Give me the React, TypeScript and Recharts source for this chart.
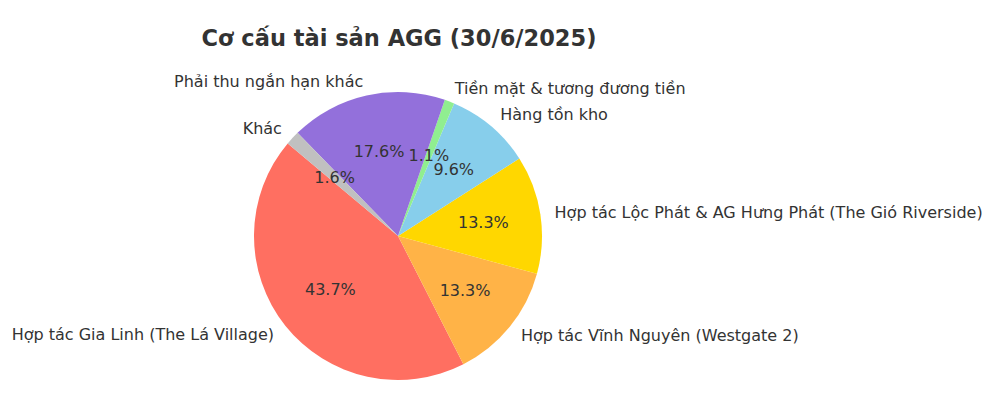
import React from 'react'
import { PieChart, Pie, Cell } from 'recharts'

// thứ tự lát bánh như bản gốc (ngược chiều kim đồng hồ, bắt đầu ở 140°)
const categories = [
  'Hợp tác Gia Linh (The Lá Village)',
  'Hợp tác Vĩnh Nguyên (Westgate 2)',
  'Hợp tác Lộc Phát & AG Hưng Phát (The Gió Riverside)',
  'Hàng tồn kho',
  'Tiền mặt & tương đương tiền',
  'Phải thu ngắn hạn khác',
  'Khác',
]
const shares = [43.7, 13.3, 13.3, 9.6, 1.1, 17.6, 1.6]
const COLORS = ['#FF6F61', '#FFB347', '#FFD700', '#87CEEB', '#90EE90', '#9370DB', '#C0C0C0']

const data = categories.map((name, i) => ({ name, value: shares[i] }))

const RADIAN = Math.PI / 180
const FONT = 'DejaVu Sans, sans-serif'
const TEXT = '#333333'

const renderLabel = (props: any) => {
  const { cx, cy, midAngle, outerRadius, name, value } = props
  const cos = Math.cos(-midAngle * RADIAN)
  const sin = Math.sin(-midAngle * RADIAN)
  const lx = cx + outerRadius * 1.1 * cos
  const ly = cy + outerRadius * 1.1 * sin
  const px = cx + outerRadius * 0.6 * cos
  const py = cy + outerRadius * 0.6 * sin
  return (
    <g>
      <text
        x={lx}
        y={ly}
        fill={TEXT}
        fontSize={16}
        fontFamily={FONT}
        textAnchor={cos >= 0 ? 'start' : 'end'}
        dominantBaseline="central"
      >
        {name}
      </text>
      <text
        x={px}
        y={py}
        fill={TEXT}
        fontSize={16}
        fontFamily={FONT}
        textAnchor="middle"
        dominantBaseline="central"
      >
        {`${value.toFixed(1)}%`}
      </text>
    </g>
  )
}

export default function App() {
  return (
    <div style={{ position: 'absolute', left: 0, top: 0, width: 1000, height: 416, background: '#fff' }}>
      <PieChart width={1000} height={416}>
        <text
          x={399}
          y={38}
          fill={TEXT}
          fontSize={22.5}
          fontWeight="bold"
          fontFamily={FONT}
          textAnchor="middle"
          dominantBaseline="central"
        >
          Cơ cấu tài sản AGG (30/6/2025)
        </text>
        <Pie
          data={data}
          dataKey="value"
          nameKey="name"
          cx={393}
          cy={231}
          outerRadius={144}
          startAngle={140}
          endAngle={500}
          stroke="none"
          labelLine={false}
          label={renderLabel}
          isAnimationActive={false}
        >
          {data.map((entry, index) => (
            <Cell key={`cell-${index}`} fill={COLORS[index]} />
          ))}
        </Pie>
      </PieChart>
    </div>
  )
}
